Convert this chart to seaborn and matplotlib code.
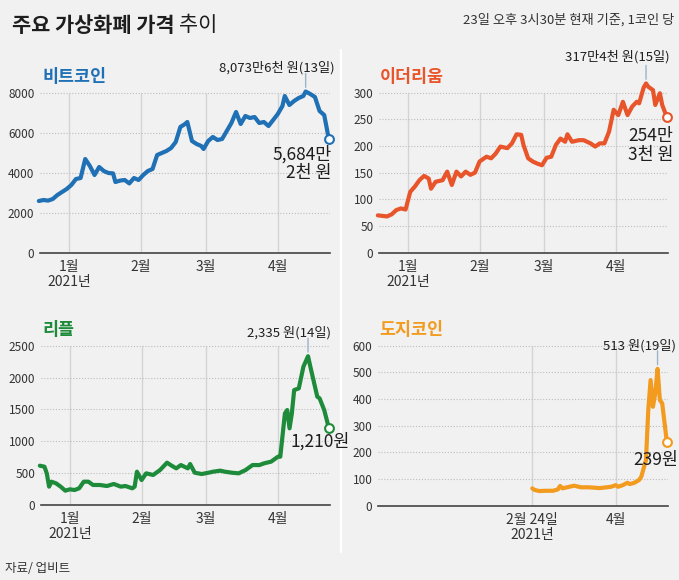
import pandas as pd
import matplotlib
matplotlib.use('Agg')
import matplotlib.pyplot as plt
from matplotlib.lines import Line2D
import seaborn as sns

W, H = 679, 580

title_bold = '주요 가상화폐 가격'
title_light = '추이'
subtitle = '23일 오후 3시30분 현재 기준, 1코인 당'
source = '자료/ 업비트'

# 비트코인 (만원)
btc_dates = ['2020-12-19', '2020-12-21', '2020-12-23', '2020-12-25', '2020-12-27', '2020-12-29', '2020-12-31',
             '2021-01-02', '2021-01-04', '2021-01-06', '2021-01-08', '2021-01-10', '2021-01-12', '2021-01-14',
             '2021-01-16', '2021-01-18', '2021-01-20', '2021-01-21', '2021-01-23', '2021-01-25', '2021-01-27',
             '2021-01-29', '2021-01-31', '2021-02-02', '2021-02-04', '2021-02-06', '2021-02-08', '2021-02-10',
             '2021-02-12', '2021-02-14', '2021-02-16', '2021-02-18', '2021-02-20', '2021-02-21', '2021-02-23',
             '2021-02-25', '2021-02-27', '2021-02-28', '2021-03-02', '2021-03-04', '2021-03-06', '2021-03-08',
             '2021-03-10', '2021-03-12', '2021-03-14', '2021-03-16', '2021-03-18', '2021-03-20', '2021-03-22',
             '2021-03-24', '2021-03-26', '2021-03-28', '2021-03-30', '2021-04-01', '2021-04-03', '2021-04-04',
             '2021-04-06', '2021-04-08', '2021-04-10', '2021-04-12', '2021-04-13', '2021-04-15', '2021-04-17',
             '2021-04-19', '2021-04-21', '2021-04-22', '2021-04-23']
btc_values = [2600, 2650, 2620, 2700, 2900, 3050, 3200,
              3400, 3700, 3750, 4700, 4350, 3900, 4300, 4100, 4000, 3980, 3550, 3620, 3650, 3480, 3750, 3650,
              3900, 4100, 4200, 4900, 5000, 5100, 5250, 5550, 6300, 6450, 6550, 5600, 5450, 5350, 5200,
              5600, 5800, 5650, 5700, 6100, 6500, 7050, 6450, 6850, 6750, 6800, 6500, 6550, 6350, 6650,
              6950, 7350, 7850, 7400, 7600, 7750, 7850, 8073.6, 7950, 7800, 7100, 6900, 6300, 5684.2]

# 이더리움 (만원)
eth_dates = ['2020-12-19', '2020-12-21', '2020-12-23', '2020-12-25', '2020-12-27', '2020-12-29', '2020-12-31',
             '2021-01-02', '2021-01-04', '2021-01-06', '2021-01-08', '2021-01-10', '2021-01-11', '2021-01-13',
             '2021-01-16', '2021-01-18', '2021-01-20', '2021-01-22', '2021-01-24', '2021-01-26', '2021-01-28',
             '2021-01-30', '2021-02-01', '2021-02-04', '2021-02-06', '2021-02-08', '2021-02-10', '2021-02-13',
             '2021-02-15', '2021-02-17', '2021-02-19', '2021-02-20', '2021-02-22', '2021-02-24', '2021-02-26',
             '2021-02-28', '2021-03-02', '2021-03-04', '2021-03-06', '2021-03-08', '2021-03-10', '2021-03-11',
             '2021-03-13', '2021-03-16', '2021-03-18', '2021-03-21', '2021-03-23', '2021-03-25', '2021-03-27',
             '2021-03-29', '2021-03-31', '2021-04-02', '2021-04-04', '2021-04-06', '2021-04-08', '2021-04-10',
             '2021-04-11', '2021-04-13', '2021-04-14', '2021-04-15', '2021-04-17', '2021-04-18', '2021-04-20',
             '2021-04-21', '2021-04-23']
eth_values = [70, 69, 68, 72, 80, 83, 81,
              114, 124, 136, 144, 139, 120, 133, 136, 152, 127, 152, 143, 152, 146, 150,
              171, 180, 177, 186, 199, 196, 205, 222, 221, 202, 177, 171, 167, 164,
              178, 180, 202, 214, 208, 222, 208, 211, 211, 205, 199, 205, 205, 227, 268,
              258, 283, 258, 274, 283, 280, 310, 317.4, 311, 305, 277, 299, 277, 254.3]

# 리플 (원)
xrp_dates = ['2020-12-19', '2020-12-21', '2020-12-22', '2020-12-23', '2020-12-24', '2020-12-26', '2020-12-28',
             '2020-12-30', '2021-01-01', '2021-01-03', '2021-01-05', '2021-01-07', '2021-01-09', '2021-01-11',
             '2021-01-14', '2021-01-17', '2021-01-20', '2021-01-23', '2021-01-25', '2021-01-28', '2021-01-29',
             '2021-01-30', '2021-02-01', '2021-02-03', '2021-02-06', '2021-02-09', '2021-02-12', '2021-02-14',
             '2021-02-16', '2021-02-18', '2021-02-21', '2021-02-22', '2021-02-24', '2021-02-27', '2021-03-02',
             '2021-03-04', '2021-03-07', '2021-03-09', '2021-03-12', '2021-03-15', '2021-03-18', '2021-03-21',
             '2021-03-24', '2021-03-26', '2021-03-29', '2021-04-01', '2021-04-02', '2021-04-04', '2021-04-05',
             '2021-04-06', '2021-04-07', '2021-04-08', '2021-04-10', '2021-04-12', '2021-04-14', '2021-04-15',
             '2021-04-16', '2021-04-18', '2021-04-19', '2021-04-21', '2021-04-23']
xrp_values = [617, 601, 497, 288, 366, 340, 288, 225,
              246, 235, 262, 366, 366, 314, 314, 298, 330, 288, 298, 262, 288, 523,
              392, 497, 471, 549, 664, 617, 575, 627, 575, 643, 507, 486,
              507, 523, 539, 523, 507, 497, 549, 627, 627, 654, 680,
              758, 758, 1438, 1490, 1203, 1438, 1804, 1830, 2171, 2335, 2171, 2014, 1700, 1674, 1490, 1210]

# 도지코인 (원)
doge_dates = ['2021-02-24', '2021-02-25', '2021-02-27', '2021-03-02', '2021-03-05', '2021-03-07', '2021-03-08',
              '2021-03-09', '2021-03-12', '2021-03-14', '2021-03-17', '2021-03-20', '2021-03-22', '2021-03-25',
              '2021-03-28', '2021-03-30', '2021-04-01', '2021-04-02', '2021-04-04', '2021-04-06', '2021-04-07',
              '2021-04-09', '2021-04-11', '2021-04-12', '2021-04-14', '2021-04-15', '2021-04-16', '2021-04-17',
              '2021-04-18', '2021-04-19', '2021-04-20', '2021-04-21', '2021-04-23']
doge_values = [65, 59, 55, 56, 56, 61, 74, 65, 71, 75, 69, 69, 68, 66, 69, 71,
               77, 71, 77, 86, 81, 86, 96, 109, 171, 359, 471, 371, 421, 513, 396, 384, 239]

month_ticks = ['2021-01-01', '2021-02-01', '2021-03-01', '2021-04-01']
month_labels = ['1월\n2021년', '2월', '3월', '4월']
doge_ticks = ['2021-02-24', '2021-04-01']
doge_labels = ['2월 24일\n2021년', '4월']

btc_yticks = [0, 2000, 4000, 6000, 8000]
eth_yticks = [0, 50, 100, 150, 200, 250, 300]
xrp_yticks = [0, 500, 1000, 1500, 2000, 2500]
doge_yticks = [0, 100, 200, 300, 400, 500, 600]

sns.set_style('white')
plt.rcParams['font.family'] = ['Noto Sans CJK KR', 'DejaVu Sans']

bg = '#f1f1f1'
fig = plt.figure(figsize=(W / 100, H / 100), dpi=100, facecolor=bg)

x0 = pd.Timestamp('2020-12-19 12:00')
x1 = pd.Timestamp('2021-04-23 12:00')


def fx(px):
    return px / W


def fy(py):
    return 1 - py / H


def panel(dates, values, color, name, name_xy, left, right, zero, ref_y, yticks, top,
          xticks, xlabels, peak_txt, peak_xy, end_txt, end_xy, end_ha):
    ymax_tick = yticks[-1]
    ax = fig.add_axes([fx(left), fy(zero), (right - left) / W, (zero - top) / H])
    ax.set_facecolor('none')
    df = pd.DataFrame({'date': pd.to_datetime(dates), 'value': values})

    xt = pd.to_datetime(xticks)
    ax.vlines(xt, 0, ymax_tick, color='#d4d4d4', lw=1, zorder=0)
    ax.hlines(yticks[1:], x0, x1, color='#bdbdbd', lw=0.8, linestyles=(0, (1, 1.6)), zorder=0)

    sns.lineplot(data=df, x='date', y='value', ax=ax, color=color, lw=3,
                 solid_capstyle='round', solid_joinstyle='round', zorder=3, clip_on=False)
    last = df.iloc[-1]
    ax.scatter([last['date']], [last['value']], s=40, facecolor='white',
               edgecolor=color, linewidth=1.5, zorder=4, clip_on=False)

    pk = df.loc[df['value'].idxmax()]
    ax.annotate('', xy=(pk['date'], pk['value']), xytext=(0, 13), textcoords='offset points',
                arrowprops=dict(arrowstyle='-', color='#9bb4c8', lw=1, shrinkA=0, shrinkB=3))

    ax.set_xlim(x0, x1)
    ax.set_ylim(0, ymax_tick * (zero - top) / (zero - ref_y))
    ax.set_xticks(xt)
    ax.set_xticklabels(xlabels, fontsize=10, color='#333333', linespacing=1.1)
    ax.set_yticks(yticks)
    ax.set_yticklabels([str(v) for v in yticks], fontsize=8.5, color='#333333')
    ax.tick_params(axis='y', length=0, pad=4)
    ax.tick_params(axis='x', length=3, width=0.8, color='#888888', pad=2)
    ax.set_xlabel('')
    ax.set_ylabel('')
    for s in ['top', 'right', 'left']:
        ax.spines[s].set_visible(False)
    ax.spines['bottom'].set_color('#444444')
    ax.spines['bottom'].set_linewidth(1.2)

    fig.text(fx(name_xy[0]), fy(name_xy[1]), name, fontsize=12.5, fontweight='bold',
             color=color, ha='left', va='center')
    fig.text(fx(peak_xy[0]), fy(peak_xy[1]), peak_txt, fontsize=9.5, color='#1e1e1e',
             ha='right', va='center', fontweight='medium')
    fig.text(fx(end_xy[0]), fy(end_xy[1]), end_txt, fontsize=12.5, color='#1e1e1e',
             ha=end_ha, va='top', linespacing=1.05, zorder=10, fontweight='medium')
    return ax


panel(btc_dates, btc_values, '#1f70b4', '비트코인', (42, 77), 40, 330, 253, 93, btc_yticks, 60,
      month_ticks, month_labels, '8,073만6천 원(13일)', (335, 68), '5,684만\n2천 원', (332, 145), 'right')
panel(eth_dates, eth_values, '#e8552a', '이더리움', (380, 77), 379, 668, 252.7, 92.7, eth_yticks, 60,
      month_ticks, month_labels, '317만4천 원(15일)', (670, 57), '254만\n3천 원', (673, 127), 'right')
panel(xrp_dates, xrp_values, '#1e8b3b', '리플', (42, 330), 41, 330, 505, 345.7, xrp_yticks, 315,
      month_ticks, month_labels, '2,335 원(14일)', (331, 333), '1,210원', (291, 432), 'left')
panel(doge_dates, doge_values, '#f29b1e', '도지코인', (379, 330), 378, 668, 505.7, 345.7, doge_yticks, 315,
      doge_ticks, doge_labels, '513 원(19일)', (676, 346), '239원', (633, 451), 'left')

# 구분선
fig.add_artist(Line2D([fx(341), fx(341)], [fy(50), fy(552)], color='white', lw=1.6))

t1 = fig.text(fx(12), fy(25), title_bold, fontsize=15, fontweight='bold', color='#1e1e1e',
              ha='left', va='center')
fig.canvas.draw()
bb = t1.get_window_extent()
fig.text(fx(bb.x1 + 5), fy(25), title_light, fontsize=15, color='#1e1e1e', ha='left', va='center')
fig.text(fx(674), fy(20), subtitle, fontsize=9.5, color='#333333', style='italic',
         ha='right', va='center')
fig.text(fx(5), fy(568), source, fontsize=9, color='#333333', style='italic', ha='left', va='center')

fig.savefig('out.png', dpi=100, facecolor=bg)
